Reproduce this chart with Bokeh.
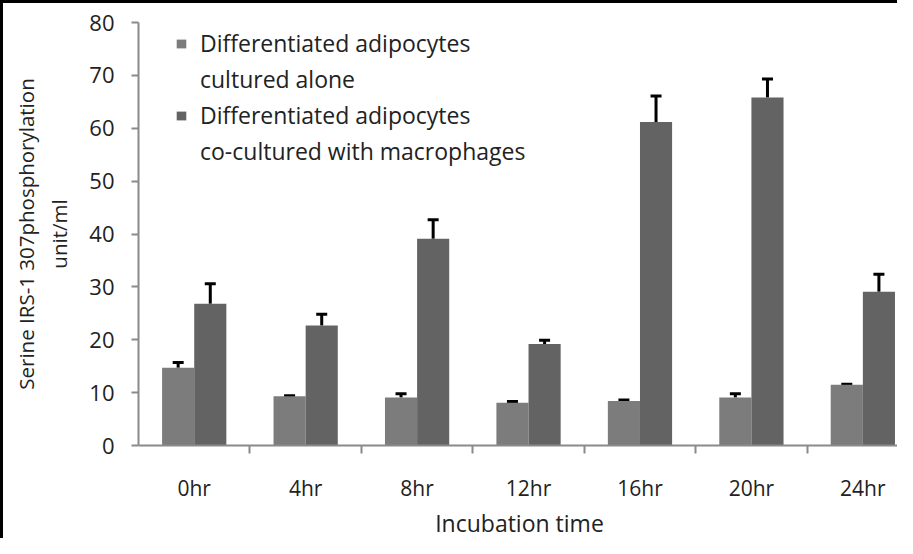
from bokeh.plotting import figure
from bokeh.models import (Range1d, FixedTicker, CustomJSTickFormatter, Whisker, TeeHead,
                          ColumnDataSource, Legend, LegendItem)
from bokeh.embed import file_html
from bokeh.resources import INLINE

categories = ["0hr", "4hr", "8hr", "12hr", "16hr", "20hr", "24hr"]
alone = [14.7, 9.3, 9.1, 8.1, 8.4, 9.1, 11.5]
alone_err = [1.0, 0.1, 0.7, 0.2, 0.2, 0.7, 0.1]
cocult = [26.8, 22.7, 39.1, 19.2, 61.2, 65.8, 29.1]
cocult_err = [3.8, 2.1, 3.6, 0.7, 4.9, 3.5, 3.3]
y_ticks = [0, 10, 20, 30, 40, 50, 60, 70, 80]
legend_lines = [["Differentiated adipocytes", "cultured alone"],
                ["Differentiated adipocytes", "co-cultured with macrophages"]]

FONT = "Open Sans"
TXT = "#222222"
LIGHT = "#7c7c7c"
DARK = "#636363"
AXIS = "#8a8a8a"

BORDER = 3
W, H = 897, 538
ML, MT, MB = 135, 19, 93
frame_w = W - BORDER - ML
cat_px = 111.0
bar_w = 32.0 / cat_px

centers = [i + 0.5 for i in range(len(categories))]
src_a = ColumnDataSource(dict(x=[c - bar_w / 2 for c in centers], top=alone,
                              up=[v + e for v, e in zip(alone, alone_err)]))
src_c = ColumnDataSource(dict(x=[c + bar_w / 2 for c in centers], top=cocult,
                              up=[v + e for v, e in zip(cocult, cocult_err)]))

p = figure(width=W, height=H, output_backend="svg", toolbar_location=None,
           x_range=Range1d(0, frame_w / cat_px), y_range=Range1d(0, 80),
           min_border_left=ML, min_border_top=MT, min_border_bottom=MB, min_border_right=0)
p.outline_line_color = None
p.grid.visible = False
p.styles = {"border-top": f"{BORDER}px solid black", "border-left": f"{BORDER}px solid black"}

r1 = p.vbar(x="x", top="top", width=bar_w, source=src_a, fill_color=LIGHT, line_color=None)
r2 = p.vbar(x="x", top="top", width=bar_w, source=src_c, fill_color=DARK, line_color=None)
blank = p.vbar(x=[], top=[], width=bar_w, fill_alpha=0, line_alpha=0)

for s in (src_a, src_c):
    w = Whisker(base="x", upper="up", lower="top", source=s, dimension="height",
                line_color="black", line_width=3,
                upper_head=TeeHead(size=11, line_color="black", line_width=3), lower_head=None)
    p.add_layout(w)

# axes
xa = p.xaxis[0]
xa.ticker = FixedTicker(ticks=centers, minor_ticks=list(range(1, len(categories))))
xa.formatter = CustomJSTickFormatter(args=dict(labels=categories),
                                     code="return labels[Math.floor(tick)];")
xa.major_tick_out = 0
xa.major_tick_in = 0
xa.minor_tick_out = 8
xa.minor_tick_in = 0
xa.minor_tick_line_color = AXIS
xa.minor_tick_line_width = 2
xa.axis_line_color = AXIS
xa.axis_line_width = 2
xa.major_label_text_font = FONT
xa.major_label_text_font_size = "21px"
xa.major_label_text_color = TXT
xa.major_label_standoff = 20
xa.axis_label = "Incubation time"
xa.axis_label_text_font = FONT
xa.axis_label_text_font_size = "23px"
xa.axis_label_text_font_style = "normal"
xa.axis_label_text_color = TXT
xa.axis_label_standoff = 2

ya = p.yaxis[0]
ya.ticker = FixedTicker(ticks=y_ticks)
ya.minor_tick_line_color = None
ya.major_tick_out = 7
ya.major_tick_in = 0
ya.major_tick_line_color = AXIS
ya.major_tick_line_width = 2
ya.axis_line_color = AXIS
ya.axis_line_width = 2
ya.major_label_text_font = FONT
ya.major_label_text_font_size = "22px"
ya.major_label_text_color = TXT
ya.major_label_standoff = 17
ya.axis_label = "Serine IRS-1 307phosphorylation\nunit/ml"
ya.axis_label_text_font = FONT
ya.axis_label_text_font_size = "20.5px"
ya.axis_label_text_font_style = "normal"
ya.axis_label_text_color = TXT
ya.axis_label_text_line_height = 1.18
ya.axis_label_standoff = 13

items = []
for (first, second), r in zip(legend_lines, (r1, r2)):
    items.append(LegendItem(label=first, renderers=[r]))
    items.append(LegendItem(label=second, renderers=[blank]))

legend = Legend(items=items, location=(37, 276), border_line_color=None,
                background_fill_alpha=0, label_text_font=FONT, label_text_font_size="23px",
                label_text_color=TXT, glyph_width=12, glyph_height=11, label_height=36,
                spacing=0, padding=0, margin=0, label_standoff=13)
p.add_layout(legend, "center")

html = file_html(p, INLINE)
open("out.html", "w").write(html)
